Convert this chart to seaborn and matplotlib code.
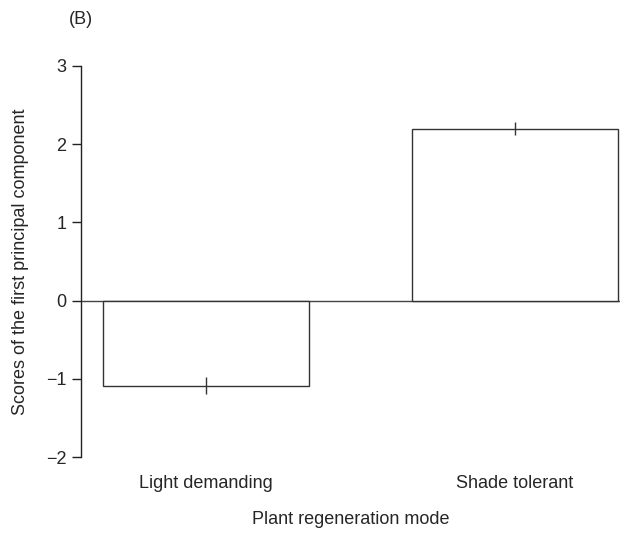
import matplotlib
matplotlib.use("Agg")
import matplotlib.pyplot as plt
import seaborn as sns
import pandas as pd

categories = ["Light demanding", "Shade tolerant"]
scores = [-1.09, 2.20]
errors = [0.11, 0.08]
yticks = [-2, -1, 0, 1, 2, 3]

sns.set_style("white")
plt.rcParams['font.family'] = ['Liberation Sans', 'DejaVu Sans']

df = pd.DataFrame({"mode": categories, "score": scores})

fig = plt.figure(figsize=(6.35, 5.35), dpi=100)
ax = fig.add_axes([81/635, 1 - 457/535, (620-81)/635, (457-66)/535])

sns.barplot(data=df, x="mode", y="score", ax=ax, width=0.667,
            color="white", edgecolor="#333333", linewidth=1.0, errorbar=None)
ax.errorbar(x=range(len(categories)), y=scores, yerr=errors, fmt="none",
            ecolor="#333333", elinewidth=1.0, capsize=0)
ax.axhline(0, color="#444444", linewidth=1.0, zorder=0)

ax.set_xlim(-0.405, 1.34)
ax.set_ylim(-2, 3)
ax.set_yticks(yticks)
ax.set_yticklabels([str(t).replace("-", "\u2212") for t in yticks])

for s in ["top", "right", "bottom"]:
    ax.spines[s].set_visible(False)
ax.spines["left"].set_color("#222222")
ax.spines["left"].set_linewidth(1.0)

ax.tick_params(axis="y", direction="out", length=6.5, width=1.0, color="#222222",
               labelsize=13, pad=4, left=True)
ax.tick_params(axis="x", length=0, labelsize=13, pad=13)

ax.set_xlabel("Plant regeneration mode", fontsize=13, labelpad=14)
ax.set_ylabel("Scores of the first principal component", fontsize=13, labelpad=12)

fig.text(81/635, 1 - 20/535, "(B)", fontsize=13, ha="center", va="center")

fig.savefig("out.png", dpi=100, facecolor="white")
